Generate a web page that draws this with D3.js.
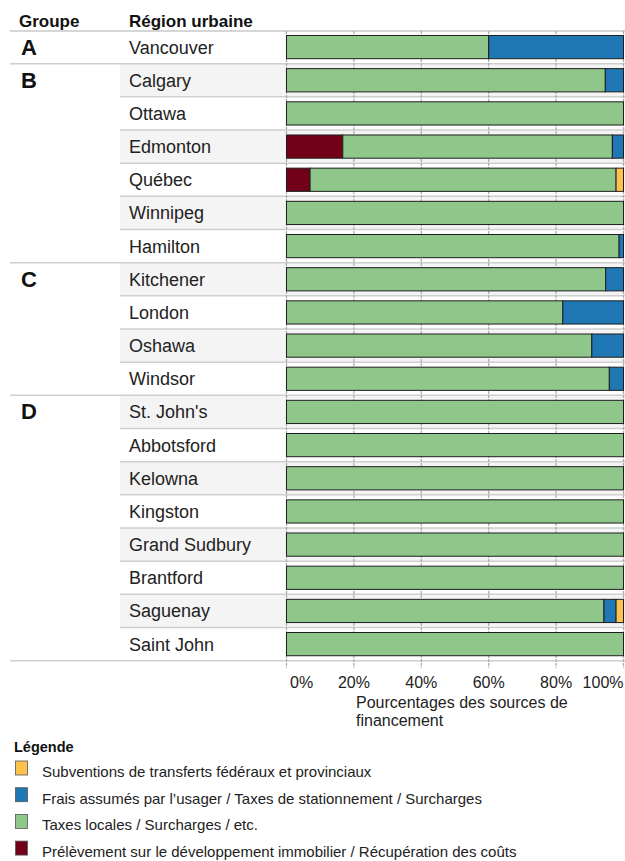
<!DOCTYPE html>
<html lang="fr">
<head>
<meta charset="utf-8">
<script src="https://cdn.jsdelivr.net/npm/d3@7"></script>
<style>
  html, body { margin: 0; padding: 0; background: #fff; }
  svg { display: block; font-family: "Liberation Sans", Arial, Helvetica, sans-serif; }
</style>
</head>
<body>
<svg id="chart" width="625" height="861"></svg>
<script>
// Urban regions, in display order, with their group
const cities = ["Vancouver", "Calgary", "Ottawa", "Edmonton", "Québec", "Winnipeg", "Hamilton",
  "Kitchener", "London", "Oshawa", "Windsor",
  "St. John's", "Abbotsford", "Kelowna", "Kingston", "Grand Sudbury", "Brantford", "Saguenay", "Saint John"];
const groups = ["A", "B", "B", "B", "B", "B", "B", "C", "C", "C", "C",
  "D", "D", "D", "D", "D", "D", "D", "D"];

// Share of funding per source (%), same order as cities
const developmentLevy = [0, 0, 0, 16.7, 7.0, 0, 0, 0, 0, 0, 0, 0, 0, 0, 0, 0, 0, 0, 0];
const localTaxes      = [60, 94.6, 100, 80.0, 90.8, 100, 98.7, 94.7, 82.0, 90.6, 95.8, 100, 100, 100, 100, 100, 100, 94.2, 100];
const userFees        = [40, 5.4, 0, 3.3, 0, 0, 1.3, 5.3, 18.0, 9.4, 4.2, 0, 0, 0, 0, 0, 0, 3.6, 0];
const transfers       = [0, 0, 0, 0, 2.2, 0, 0, 0, 0, 0, 0, 0, 0, 0, 0, 0, 0, 2.2, 0];

const seriesKeys  = ["levy", "local", "fees", "transfers"];
const seriesNames = {
  transfers: "Subventions de transferts fédéraux et provinciaux",
  fees: "Frais assumés par l’usager / Taxes de stationnement / Surcharges",
  local: "Taxes locales / Surcharges / etc.",
  levy: "Prélèvement sur le développement immobilier / Récupération des coûts"
};
const legendOrder = ["transfers", "fees", "local", "levy"];
const colors = { transfers: "#ffc14f", fees: "#1f77b4", local: "#8fc68a", levy: "#720019" };

const xTicks = [0, 20, 40, 60, 80, 100];

const rows = cities.map((c, i) => ({
  city: c, group: groups[i],
  levy: developmentLevy[i], local: localTaxes[i], fees: userFees[i], transfers: transfers[i]
}));

const svg = d3.select("#chart");

const x = d3.scaleLinear().domain([0, 100]).range([286.5, 623.5]);
const y = d3.scaleBand().domain(cities).range([30.5, 660.7]).paddingInner(0.3).paddingOuter(0.15);
const step = y.step();
const rowTop = c => y(c) - (step - y.bandwidth()) / 2;
const rowMid = c => y(c) + y.bandwidth() / 2;

// Row backgrounds (alternating)
svg.append("g").selectAll("rect").data(rows).join("rect")
  .attr("x", 120).attr("width", 625 - 120)
  .attr("y", d => rowTop(d.city)).attr("height", step)
  .attr("fill", (d, i) => i % 2 === 1 ? "#f4f4f4" : "#ffffff");

// Row separators; group boundaries span the full width
svg.append("line").attr("x1", 10).attr("x2", 625).attr("y1", 31).attr("y2", 31)
  .attr("stroke", "#c8c8c8").attr("stroke-width", 1.5);
svg.append("g").selectAll("line").data(rows).join("line")
  .attr("x1", (d, i) => (i === rows.length - 1 || rows[i + 1].group !== d.group) ? 10 : 120)
  .attr("x2", 625)
  .attr("y1", d => rowTop(d.city) + step).attr("y2", d => rowTop(d.city) + step)
  .attr("stroke", "#cfcfcf").attr("stroke-width", 1.5);

// Vertical gridlines with tick extensions
svg.append("g").selectAll("line").data(xTicks).join("line")
  .attr("x1", d => x(d)).attr("x2", d => x(d))
  .attr("y1", 31).attr("y2", 668)
  .attr("stroke", "#a8a8a8").attr("stroke-width", 1.2)
  .attr("stroke-dasharray", "3,1");

// Stacked bars
const stack = d3.stack().keys(seriesKeys)(rows);
svg.append("g").selectAll("g").data(stack).join("g")
  .attr("fill", d => colors[d.key])
  .selectAll("rect").data(d => d.filter(s => s[1] - s[0] > 0)).join("rect")
  .attr("x", d => x(d[0])).attr("width", d => x(d[1]) - x(d[0]))
  .attr("y", d => y(d.data.city)).attr("height", y.bandwidth())
  .attr("stroke", "#1e1e1e").attr("stroke-width", 1);

// Header
svg.append("text").attr("x", 19).attr("y", 27).attr("font-size", 17).attr("font-weight", "bold")
  .attr("fill", "#111").text("Groupe");
svg.append("text").attr("x", 129).attr("y", 27).attr("font-size", 17).attr("font-weight", "bold")
  .attr("fill", "#111").text("Région urbaine");

// Group letters at the first row of each group
svg.append("g").selectAll("text").data(rows.filter((d, i) => i === 0 || rows[i - 1].group !== d.group))
  .join("text")
  .attr("x", 21).attr("y", d => rowMid(d.city) + 7.5)
  .attr("font-size", 22).attr("font-weight", "bold").attr("fill", "#111")
  .text(d => d.group);

// City labels
svg.append("g").selectAll("text").data(rows).join("text")
  .attr("x", 129).attr("y", d => rowMid(d.city) + 6.5)
  .attr("font-size", 18).attr("fill", "#222")
  .text(d => d.city);

// Axis tick labels
svg.append("g").selectAll("text").data(xTicks).join("text")
  .attr("x", (d, i) => i === 0 ? x(d) + 3.5 : x(d))
  .attr("y", 687.5)
  .attr("text-anchor", (d, i) => i === 0 ? "start" : (i === xTicks.length - 1 ? "end" : "middle"))
  .attr("font-size", 16).attr("fill", "#222")
  .text(d => d + "%");

// Axis title
const title = svg.append("text").attr("font-size", 16).attr("fill", "#222");
title.append("tspan").attr("x", 356).attr("y", 708).text("Pourcentages des sources de");
title.append("tspan").attr("x", 356).attr("y", 725.5).text("financement");

// Legend
svg.append("text").attr("x", 14).attr("y", 752).attr("font-size", 14.5).attr("font-weight", "bold")
  .attr("fill", "#111").text("Légende");
const legend = svg.append("g").selectAll("g").data(legendOrder).join("g")
  .attr("transform", (d, i) => `translate(0, ${777 + i * 26.7})`);
legend.append("rect").attr("x", 15.5).attr("y", -16).attr("width", 12).attr("height", 14)
  .attr("fill", d => colors[d]).attr("stroke", "#555").attr("stroke-width", 0.8);
legend.append("text").attr("x", 42).attr("y", 0).attr("font-size", 15).attr("fill", "#222")
  .text(d => seriesNames[d]);
</script>
</body>
</html>
